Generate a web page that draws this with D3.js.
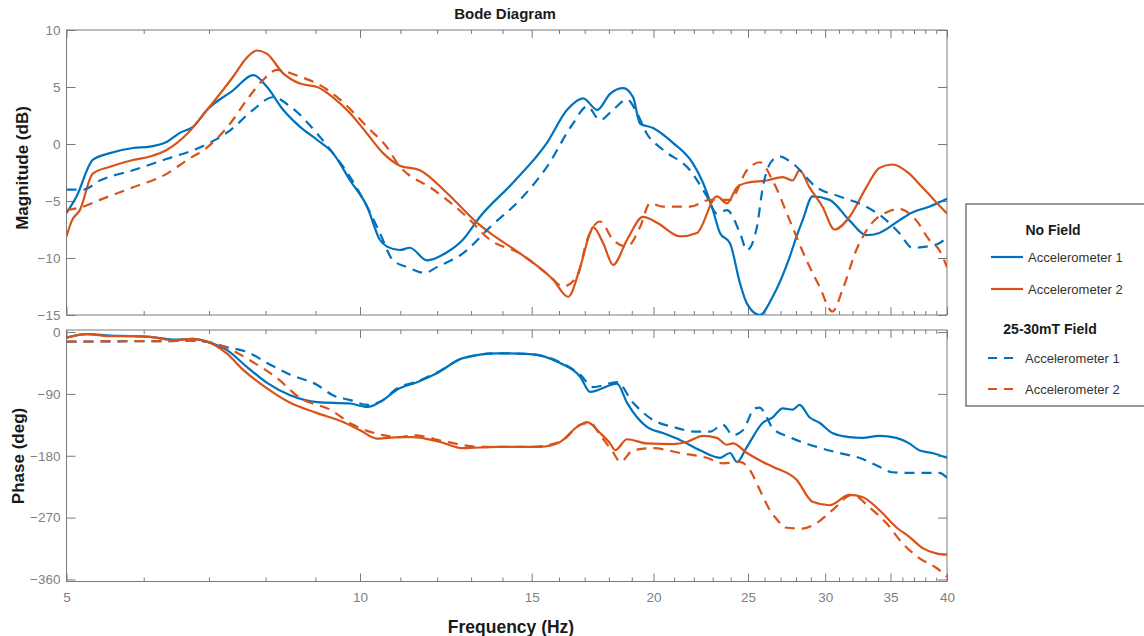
<!DOCTYPE html>
<html>
<head>
<meta charset="utf-8">
<script src="https://cdn.jsdelivr.net/npm/d3@7"></script>
<style>
  html, body { margin: 0; padding: 0; background: #fff; }
  svg { display: block; font-family: "Liberation Sans", Arial, sans-serif; }
</style>
</head>
<body>
<svg id="chart" width="1144" height="636"></svg>
<script>
// ---------- data (frequency in Hz, value) ----------
const majorTicks = [5, 10, 15, 20, 25, 30, 35, 40];
const minorTicks = [6,7,8,9,11,12,13,14,16,17,18,19,21,22,23,24,26,27,28,29,31,32,33,34,36,37,38,39];
const magTicks = [10, 5, 0, -5, -10, -15];
const phaseTicks = [0, -90, -180, -270, -360];
const legendGroups = ["No Field", "25-30mT Field"];
const legendNames = ["Accelerometer 1", "Accelerometer 2"];

const magAcc1NoField = [[5.00,-6.05],[5.12,-4.6],[5.32,-1.4],[5.54,-0.8],[5.85,-0.35],[6.09,-0.23],[6.34,0.2],[6.54,1.0],[6.74,1.5],[6.97,3.0],[7.41,4.7],[7.77,6.05],[8.03,5.0],[8.34,3.0],[8.68,1.5],[9.04,0.35],[9.38,-0.8],[9.77,-3.2],[10.17,-5.5],[10.48,-8.4],[10.66,-9.0],[10.99,-9.3],[11.25,-9.1],[11.71,-10.2],[12.28,-9.5],[12.75,-8.4],[13.27,-6.4],[14.35,-3.4],[15.55,0.1],[16.31,3.0],[16.94,4.0],[17.51,3.0],[18.05,4.4],[18.62,4.9],[19.06,4.1],[19.37,1.8],[19.98,1.4],[20.94,0.1],[21.95,-1.7],[22.48,-3.4],[23.01,-5.8],[23.40,-7.8],[23.96,-8.7],[24.53,-12.2],[24.94,-14.0],[25.71,-15.0],[26.50,-13.4],[27.59,-9.9],[28.04,-8.1],[28.44,-6.7],[29.12,-4.6],[30.31,-4.9],[31.77,-6.7],[33.06,-8.0],[34.09,-7.8],[35.73,-6.7],[36.85,-6.0],[38.35,-5.5],[40,-4.8]];
const magAcc2NoField = [[5.00,-8.1],[5.065,-6.7],[5.16,-5.8],[5.32,-2.6],[5.54,-2.0],[5.85,-1.4],[6.09,-1.1],[6.34,-0.5],[6.65,0.9],[6.97,3.0],[7.41,5.9],[7.66,7.6],[7.84,8.2],[8.03,7.9],[8.34,6.2],[8.68,5.3],[9.04,5.0],[9.38,4.1],[9.77,2.7],[10.17,0.9],[10.56,-0.8],[10.99,-1.9],[11.52,-2.3],[12.28,-4.3],[13.18,-6.9],[13.59,-7.8],[14.59,-9.6],[15.78,-11.9],[16.35,-13.4],[16.82,-10.8],[17.22,-7.8],[17.34,-7.3],[17.76,-8.7],[18.18,-10.6],[18.79,-8.4],[19.51,-6.4],[20.17,-6.9],[21.29,-8.1],[22.16,-7.8],[23.23,-4.6],[23.79,-5.2],[24.36,-3.8],[24.94,-3.4],[26.13,-3.2],[27.14,-2.9],[27.78,-3.2],[28.24,-2.3],[28.91,-3.8],[29.81,-5.5],[30.67,-7.5],[31.77,-6.4],[33.06,-3.8],[34.09,-2.1],[35.15,-1.8],[36.59,-2.6],[37.73,-3.8],[38.99,-5.1],[40,-6.1]];
const magAcc1Field = [[5.00,-4.0],[5.20,-4.0],[5.41,-3.2],[5.85,-2.3],[6.34,-1.3],[6.85,-0.3],[7.36,1.2],[7.77,3.0],[8.14,4.1],[8.48,3.3],[9.04,0.9],[9.38,-0.8],[9.77,-2.9],[10.17,-5.5],[10.48,-7.8],[10.81,-10.2],[11.18,-10.8],[11.66,-11.3],[11.99,-10.8],[12.75,-9.6],[13.59,-7.3],[14.59,-4.9],[15.55,-2.0],[16.54,1.8],[17.10,3.3],[17.63,2.1],[18.18,3.0],[18.79,3.9],[19.24,2.7],[19.69,0.9],[20.45,-0.5],[21.80,-2.3],[22.69,-4.6],[23.23,-6.1],[23.79,-5.8],[24.53,-7.8],[24.94,-9.3],[25.53,-7.3],[25.89,-3.8],[26.50,-1.4],[26.95,-1.1],[27.78,-1.7],[29.39,-3.8],[31.03,-4.6],[33.06,-5.5],[34.33,-6.4],[35.73,-7.8],[36.85,-9.1],[38.08,-9.0],[39.27,-8.7],[40,-8.2]];
const magAcc2Field = [[5.00,-5.8],[5.20,-5.5],[5.41,-4.9],[5.85,-3.8],[6.34,-2.6],[6.65,-1.4],[6.97,-0.3],[7.36,1.8],[7.66,3.9],[7.95,5.6],[8.22,6.5],[8.68,5.9],[9.04,5.3],[9.54,3.9],[10.17,1.5],[10.66,-0.3],[10.99,-2.0],[11.18,-2.6],[11.80,-3.8],[12.28,-4.9],[12.87,-6.4],[13.59,-8.4],[14.59,-9.6],[15.66,-11.6],[16.15,-12.5],[16.70,-11.6],[17.10,-8.4],[17.63,-6.8],[18.18,-8.4],[18.79,-9.0],[19.37,-7.3],[19.84,-5.2],[20.45,-5.5],[21.80,-5.5],[22.85,-4.9],[23.96,-4.9],[24.94,-2.3],[25.71,-1.6],[26.50,-3.2],[27.59,-6.7],[28.71,-10.2],[29.60,-12.5],[30.52,-14.7],[31.25,-12.8],[32.29,-9.3],[33.53,-6.9],[34.66,-6.0],[35.73,-5.7],[37.20,-6.7],[38.35,-8.4],[39.27,-9.3],[40,-10.8]];

const phaseAcc1NoField = [[5.00,-8],[5.25,-3],[5.54,-5],[5.85,-6],[6.09,-7],[6.43,-11],[6.74,-10],[6.97,-14],[7.30,-26],[7.66,-51],[8.03,-74],[8.48,-92],[9.04,-102],[9.77,-104],[10.17,-109],[10.56,-99],[10.91,-84],[11.44,-73],[11.99,-60],[12.75,-38],[13.82,-31],[14.94,-32],[16.04,-45],[16.82,-65],[17.22,-87],[18.35,-75],[18.79,-103],[19.69,-138],[20.45,-147],[21.29,-157],[22.32,-172],[23.40,-183],[23.96,-176],[24.36,-189],[24.94,-167],[25.89,-132],[26.50,-124],[27.14,-111],[27.78,-113],[28.24,-106],[28.91,-124],[29.60,-132],[30.52,-147],[31.77,-153],[32.75,-154],[34.09,-151],[35.48,-154],[36.59,-162],[37.46,-172],[38.63,-176],[40,-183]];
const phaseAcc2NoField = [[5.00,-8],[5.25,-3],[5.54,-6],[5.85,-6],[6.09,-7],[6.43,-12],[6.74,-10],[6.97,-14],[7.30,-31],[7.59,-55],[8.03,-82],[8.48,-103],[9.04,-118],[9.61,-131],[10.0,-143],[10.41,-155],[10.99,-153],[11.34,-153],[12.08,-160],[12.75,-169],[13.82,-167],[15.30,-167],[16.04,-160],[16.70,-138],[17.10,-131],[17.63,-147],[18.05,-162],[18.27,-172],[18.79,-156],[19.69,-162],[20.94,-163],[21.64,-160],[22.48,-151],[23.23,-154],[23.79,-164],[24.13,-162],[24.94,-176],[25.89,-189],[26.50,-196],[28.04,-215],[29.12,-247],[30.31,-252],[31.77,-237],[32.75,-240],[34.09,-259],[35.48,-284],[36.59,-298],[37.73,-314],[38.99,-322],[40,-324]];
const phaseAcc1Field = [[5.00,-14],[6.85,-13],[7.30,-22],[7.66,-29],[8.03,-45],[8.48,-62],[9.04,-77],[9.38,-92],[9.77,-99],[10.17,-106],[10.56,-99],[10.91,-82],[11.44,-72],[11.99,-59],[12.75,-38],[13.82,-31],[14.94,-32],[16.04,-44],[16.82,-62],[17.34,-80],[18.35,-73],[19.06,-103],[19.98,-128],[20.94,-138],[22.16,-145],[22.85,-145],[23.56,-135],[24.13,-150],[24.70,-143],[25.41,-111],[25.71,-110],[26.13,-124],[26.50,-140],[27.59,-153],[29.39,-167],[31.03,-176],[32.52,-183],[34.09,-196],[35.15,-204],[36.85,-205],[38.35,-205],[39.27,-205],[40,-212]];
const phaseAcc2Field = [[5.00,-14],[6.85,-13],[7.30,-23],[7.71,-41],[8.22,-67],[8.68,-96],[9.32,-113],[9.84,-135],[10.56,-150],[10.99,-153],[11.34,-150],[12.28,-160],[13.27,-167],[14.94,-167],[16.04,-160],[16.82,-135],[17.22,-132],[17.63,-150],[18.18,-175],[18.49,-189],[19.06,-172],[19.98,-169],[21.29,-176],[22.69,-183],[23.56,-191],[24.53,-189],[25.12,-201],[25.71,-230],[26.32,-259],[26.95,-278],[27.14,-284],[28.44,-286],[29.39,-278],[30.52,-259],[31.99,-237],[33.30,-255],[34.66,-278],[35.99,-307],[37.46,-329],[38.99,-343],[40,-356]];

// ---------- styling ----------
const BLUE = "#0072BD", ORANGE = "#D95319";
const AXIS = "#7a7a7a", LABEL = "#808080";
const DASH = "10,7";

const svg = d3.select("#chart");
const left = 66.5, right = 947;
const x = d3.scaleLog().domain([5, 40]).range([left, right]);
const yMag = d3.scaleLinear().domain([-15, 10]).range([315, 30]);
const yPh = d3.scaleLinear().domain([-363, 3]).range([581.5, 330]);

function panel(id, y, yTicks, showXLabels, series) {
  const [yb, yt] = y.range();
  const g = svg.append("g");
  g.append("clipPath").attr("id", id).append("rect")
    .attr("x", left).attr("y", yt).attr("width", right - left).attr("height", yb - yt);

  g.append("rect").attr("x", left).attr("y", yt).attr("width", right - left).attr("height", yb - yt)
    .attr("fill", "none").attr("stroke", AXIS).attr("stroke-width", 1);

  const styleAxis = sel => {
    sel.select(".domain").remove();
    sel.selectAll("line").attr("stroke", AXIS);
    sel.selectAll("text").attr("fill", LABEL).style("font-size", "13.5px")
      .style("font-family", "'Liberation Sans', Arial, sans-serif");
  };

  g.append("g").attr("transform", `translate(0,${yb})`)
    .call(d3.axisBottom(x).tickValues(majorTicks).tickFormat(showXLabels ? d3.format("d") : () => "")
      .tickSize(-8).tickPadding(11)).call(styleAxis);
  g.append("g").attr("transform", `translate(0,${yb})`)
    .call(d3.axisBottom(x).tickValues(minorTicks).tickFormat(() => "").tickSize(-4)).call(styleAxis);
  g.append("g").attr("transform", `translate(0,${yt})`)
    .call(d3.axisTop(x).tickValues(majorTicks).tickFormat(() => "").tickSize(-8)).call(styleAxis);
  g.append("g").attr("transform", `translate(0,${yt})`)
    .call(d3.axisTop(x).tickValues(minorTicks).tickFormat(() => "").tickSize(-4)).call(styleAxis);

  g.append("g").attr("transform", `translate(${left},0)`)
    .call(d3.axisLeft(y).tickValues(yTicks).tickFormat(d3.format("d")).tickSize(-9).tickPadding(6))
    .call(styleAxis);
  g.append("g").attr("transform", `translate(${right},0)`)
    .call(d3.axisRight(y).tickValues(yTicks).tickFormat(() => "").tickSize(-9))
    .call(styleAxis);

  const line = d3.line().x(d => x(d[0])).y(d => y(d[1])).curve(d3.curveMonotoneX);
  const lines = g.append("g").attr("clip-path", `url(#${id})`);
  series.forEach(s => {
    lines.append("path").datum(s.data).attr("d", line)
      .attr("fill", "none").attr("stroke", s.color).attr("stroke-width", 2.2)
      .attr("stroke-linejoin", "round")
      .attr("stroke-dasharray", s.dashed ? DASH : null);
  });
}

panel("clipMag", yMag, magTicks, false, [
  {data: magAcc1NoField, color: BLUE, dashed: false},
  {data: magAcc2NoField, color: ORANGE, dashed: false},
  {data: magAcc1Field, color: BLUE, dashed: true},
  {data: magAcc2Field, color: ORANGE, dashed: true}
]);
panel("clipPh", yPh, phaseTicks, true, [
  {data: phaseAcc1NoField, color: BLUE, dashed: false},
  {data: phaseAcc2NoField, color: ORANGE, dashed: false},
  {data: phaseAcc1Field, color: BLUE, dashed: true},
  {data: phaseAcc2Field, color: ORANGE, dashed: true}
]);

svg.append("text").attr("x", 505).attr("y", 19).attr("text-anchor", "middle")
  .style("font-size", "15px").style("font-weight", "bold").attr("fill", "#1a1a1a").text("Bode Diagram");
svg.append("text").attr("x", 511).attr("y", 633).attr("text-anchor", "middle")
  .style("font-size", "17.5px").style("font-weight", "bold").attr("fill", "#1a1a1a").text("Frequency (Hz)");
svg.append("text").attr("transform", "translate(28,168) rotate(-90)").attr("text-anchor", "middle")
  .style("font-size", "17px").style("font-weight", "bold").attr("fill", "#1a1a1a").text("Magnitude (dB)");
svg.append("text").attr("transform", "translate(24,456) rotate(-90)").attr("text-anchor", "middle")
  .style("font-size", "17px").style("font-weight", "bold").attr("fill", "#1a1a1a").text("Phase (deg)");

const lg = svg.append("g");
lg.append("rect").attr("x", 966).attr("y", 204).attr("width", 200).attr("height", 202)
  .attr("fill", "#fff").attr("stroke", "#333").attr("stroke-width", 1);
const legendRows = [
  {type: "head", text: legendGroups[0], x: 1053, y: 230},
  {type: "item", text: legendNames[0], color: BLUE, dashed: false, x1: 991, x2: 1023, tx: 1028, y: 257},
  {type: "item", text: legendNames[1], color: ORANGE, dashed: false, x1: 991, x2: 1023, tx: 1028, y: 289},
  {type: "head", text: legendGroups[1], x: 1050, y: 329},
  {type: "item", text: legendNames[0], color: BLUE, dashed: true, x1: 988, x2: 1015, tx: 1025, y: 358},
  {type: "item", text: legendNames[1], color: ORANGE, dashed: true, x1: 988, x2: 1015, tx: 1025, y: 389}
];
legendRows.forEach(r => {
  if (r.type === "head") {
    lg.append("text").attr("x", r.x).attr("y", r.y).attr("dy", "0.35em").attr("text-anchor", "middle")
      .style("font-size", "14px").style("font-weight", "bold").attr("fill", "#1a1a1a").text(r.text);
  } else {
    lg.append("line").attr("x1", r.x1).attr("x2", r.x2).attr("y1", r.y).attr("y2", r.y)
      .attr("stroke", r.color).attr("stroke-width", 2.2)
      .attr("stroke-dasharray", r.dashed ? "9,7" : null);
    lg.append("text").attr("x", r.tx).attr("y", r.y).attr("dy", "0.35em")
      .style("font-size", "13px").attr("fill", "#333").text(r.text);
  }
});
</script>
</body>
</html>
